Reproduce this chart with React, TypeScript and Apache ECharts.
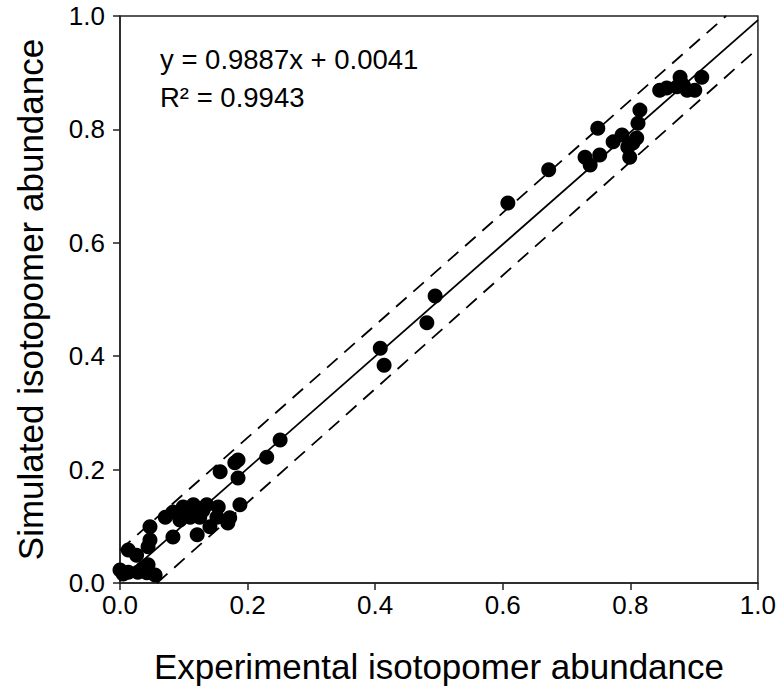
import React, { useEffect, useRef } from "react";
import * as echarts from "echarts";

const experimental = [
  0.608, 0.672, 0.729, 0.737, 0.749, 0.752, 0.773, 0.787, 0.796, 0.799, 0.804, 0.81, 0.812, 0.815,
  0.846, 0.857, 0.873, 0.878, 0.883, 0.889, 0.901, 0.912,
  0.408, 0.414, 0.481, 0.494,
  0.251, 0.23, 0.185, 0.18, 0.157, 0.185, 0.188, 0.172, 0.169, 0.154, 0.136, 0.115, 0.099, 0.083,
  0.071, 0.047, 0.047, 0.083, 0.121, 0.141, 0.152, 0.094, 0.11, 0.125, 0.105, 0.13, 0.118,
  0.044, 0.013, 0.026, 0.044, 0.0, 0.013, 0.028, 0.042, 0.055, 0.005, 0.035,
];
const simulated = [
  0.67, 0.729, 0.751, 0.737, 0.802, 0.755, 0.778, 0.79, 0.769, 0.751, 0.776, 0.785, 0.811, 0.834,
  0.869, 0.873, 0.875, 0.892, 0.878, 0.869, 0.869, 0.892,
  0.414, 0.384, 0.459, 0.506,
  0.252, 0.222, 0.217, 0.212, 0.196, 0.185, 0.138, 0.115, 0.106, 0.134, 0.138, 0.138, 0.134, 0.125,
  0.116, 0.099, 0.076, 0.081, 0.085, 0.099, 0.116, 0.111, 0.116, 0.116, 0.127, 0.128, 0.125,
  0.064, 0.058, 0.049, 0.032, 0.023, 0.019, 0.019, 0.018, 0.014, 0.016, 0.025,
];
const fitLine = [[0, 0.0041], [1, 0.9928]];
const upperBand = [[0, 0.058], [0.95, 1.0]];
const lowerBand = [[0.058, 0], [1, 0.943]];
const tickLabels = ["0.0", "0.2", "0.4", "0.6", "0.8", "1.0"];
const equationText = "y = 0.9887x + 0.0041";
const r2Text = "R² = 0.9943";

const FONT = "'Liberation Sans', Arial, sans-serif";

export default function App() {
  const ref = useRef<HTMLDivElement>(null);
  useEffect(() => {
    if (!ref.current) return;
    const chart = echarts.init(ref.current, null, { renderer: "svg" });
    const points = experimental.map((x, i) => [x, simulated[i]]);
    const axisCommon = {
      min: 0,
      max: 1,
      interval: 0.2,
      splitLine: { show: false },
      axisLine: { show: true, lineStyle: { color: "#222", width: 1.5 } },
      axisTick: { show: true, inside: false, length: 7, lineStyle: { color: "#222", width: 1.5 } },
      nameLocation: "middle" as const,
      nameTextStyle: { fontFamily: FONT, fontSize: 35, color: "#000" },
    };
    const labelCommon = {
      fontFamily: FONT,
      fontSize: 26,
      color: "#000",
      formatter: (v: number) => tickLabels[Math.round(v * 5)],
    };
    chart.setOption({
      animation: false,
      backgroundColor: "#fff",
      grid: {
        left: 120,
        top: 16,
        right: 21,
        bottom: 114,
        show: true,
        borderColor: "#222",
        borderWidth: 1.5,
        containLabel: false,
      },
      xAxis: {
        type: "value",
        ...axisCommon,
        name: "Experimental isotopomer abundance",
        nameGap: 66,
        axisLabel: { ...labelCommon, margin: 9 },
      },
      yAxis: {
        type: "value",
        ...axisCommon,
        name: "Simulated isotopomer abundance",
        nameGap: 72,
        axisLabel: { ...labelCommon, margin: 15 },
      },
      series: [
        {
          type: "line",
          data: fitLine,
          symbol: "none",
          lineStyle: { color: "#000", width: 1.8 },
          z: 2,
        },
        {
          type: "line",
          data: upperBand,
          symbol: "none",
          lineStyle: { color: "#000", width: 1.8, type: [14, 9] },
          z: 2,
        },
        {
          type: "line",
          data: lowerBand,
          symbol: "none",
          lineStyle: { color: "#000", width: 1.8, type: [14, 9] },
          z: 2,
        },
        {
          type: "scatter",
          data: points,
          symbol: "circle",
          symbolSize: 15,
          itemStyle: { color: "#000", opacity: 1 },
          z: 3,
        },
      ],
      graphic: [
        {
          type: "text",
          left: 160,
          top: 45,
          style: { text: equationText, font: `27.5px ${FONT}`, fill: "#000" },
        },
        {
          type: "text",
          left: 160,
          top: 83,
          style: { text: r2Text, font: `27.5px ${FONT}`, fill: "#000" },
        },
      ],
    });
    return () => chart.dispose();
  }, []);
  return (
    <div
      ref={ref}
      style={{ position: "fixed", left: 0, top: 0, width: 779, height: 697 }}
    />
  );
}
